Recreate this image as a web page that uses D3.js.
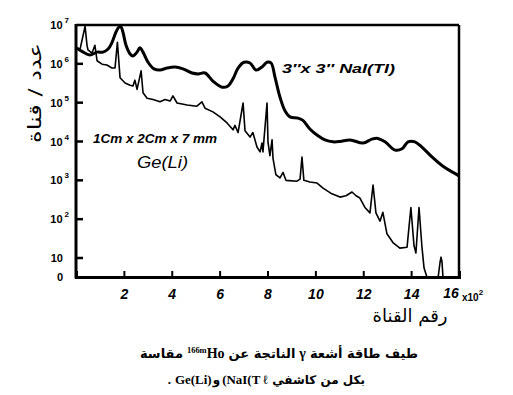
<!DOCTYPE html>
<html><head><meta charset="utf-8">
<script src="https://cdn.jsdelivr.net/npm/d3@7"></script>
<style>
html,body{margin:0;padding:0;background:#fff;}
svg{display:block;}
</style></head>
<body>
<svg id="c" width="513" height="395"></svg>
<script>
// ---- data (channel in units of 100 channels, counts per channel) ----
const naiChannel = [0,0.25,0.58,0.88,1.13,1.34,1.5,1.67,1.8,1.88,1.96,2.09,2.26,2.38,2.55,2.67,2.8,3.01,3.26,3.51,3.8,4.14,4.47,4.85,5.1,5.39,5.72,6.1,6.35,6.56,6.77,7.02,7.27,7.52,7.77,7.98,8.15,8.31,8.52,8.73,8.94,9.27,9.48,9.77,10.11,10.4,10.74,11.03,11.45,11.99,12.36,12.61,12.91,13.33,13.62,13.87,14.16,14.45,14.87,15.33,15.75,16];
const naiCounts = [2.6e6,2.1e6,1.7e6,2.0e6,2.0e6,2.4e6,3.5e6,6.6e6,8.9e6,8.9e6,6.6e6,3.0e6,1.8e6,1.6e6,2.0e6,2.6e6,2.0e6,1.1e6,7.4e5,6.9e5,7.8e5,8.3e5,7.4e5,5.8e5,5.5e5,5.8e5,3.6e5,2.5e5,2.7e5,4.1e5,7.8e5,1.1e6,1.05e6,6.9e5,8.3e5,1.1e6,1.05e6,4.6e5,1.4e5,6.2e4,4.3e4,4.0e4,3.5e4,2.1e4,1.4e4,1.1e4,9.8e3,1.0e4,1.1e4,9.1e3,1.15e4,1.2e4,9.8e3,6.0e3,6.5e3,9.8e3,9.8e3,7.2e3,4.0e3,2.3e3,1.6e3,1.3e3];

const geChannel = [0,0.17,0.38,0.46,0.5,0.67,0.79,0.88,1.09,1.29,1.5,1.63,1.73,1.84,2.05,2.26,2.38,2.46,2.55,2.72,2.8,2.97,3.22,3.51,3.72,3.93,4.05,4.22,4.64,5.05,5.26,5.39,5.72,6.02,6.31,6.56,6.64,6.77,6.98,7.06,7.27,7.39,7.56,7.69,7.77,7.81,7.98,8.02,8.1,8.19,8.23,8.35,8.52,8.65,8.77,9.23,9.36,9.44,9.52,9.77,10.07,10.32,10.69,11.03,11.28,11.53,11.7,11.86,12.07,12.28,12.41,12.53,12.7,12.82,12.99,13.24,13.53,13.83,13.99,14.12,14.2,14.33,14.45,14.54,14.66,15.13,15.21,15.25,15.29,15.33,16];
const geCounts = [2.6e6,2.4e6,9.3e6,3.0e6,2.3e6,1.9e6,3.0e6,1.2e6,9.8e5,9.3e5,7.8e5,7.8e5,3.6e6,4.4e5,3.2e5,2.8e5,2.7e5,3.8e5,2.2e5,6.6e5,1.8e5,1.3e5,1.2e5,1.05e5,1.2e5,1.1e5,1.5e5,9.8e4,8.7e4,8.1e4,1.05e5,7.2e4,5.8e4,4.3e4,3.0e4,2.0e4,2.6e4,1.7e4,9.8e4,1.9e4,1.3e4,1.7e4,7.2e3,5.4e3,9.1e3,5.4e3,9.8e4,9.8e3,4.3e3,1.1e4,3.7e3,1.4e3,1.15e3,1.6e3,1.0e3,9.5e2,1.07e3,4.0e3,1.0e3,9.1e2,8.5e2,6.3e2,4.5e2,3.7e2,4.0e2,5.0e2,4.0e2,3.5e2,2.0e2,1.45e2,7.6e2,1.45e2,89,150,42,25,18,19,200,21,13.5,200,20,4.7,0,0,7.9,10.5,7.9,0,0];

const xTicks = [2,4,6,8,10,12,14];
const yTicks = [0,10,1e2,1e3,1e4,1e5,1e6,1e7];
const yTickLabels = [["0",""],["10",""],["10","2"],["10","3"],["10","4"],["10","5"],["10","6"],["10","7"]];

// ---- scales ----
const svg = d3.select("#c");
const x = d3.scaleLinear().domain([0,16]).range([76,459]);
const yLog = d3.scaleLog().domain([10,1e7]).range([258,25]);
const yLin = d3.scaleLinear().domain([0,10]).range([277,258]);
const y = v => v >= 10 ? yLog(v) : yLin(v);

const nai = naiChannel.map((c,i)=>({c, v:naiCounts[i]}));
const ge = geChannel.map((c,i)=>({c, v:geCounts[i]}));

// ---- curves ----
svg.append("path").datum(ge)
  .attr("d", d3.line().x(d=>x(d.c)).y(d=>y(d.v)).curve(d3.curveLinear))
  .attr("fill","none").attr("stroke","#000").attr("stroke-width",1.6).attr("stroke-linejoin","round");
svg.append("path").datum(nai)
  .attr("d", d3.line().x(d=>x(d.c)).y(d=>y(d.v)).curve(d3.curveCatmullRom.alpha(0.5)))
  .attr("fill","none").attr("stroke","#000").attr("stroke-width",3).attr("stroke-linejoin","round");

// ---- frame ----
const fr = svg.append("g").attr("stroke","#000").attr("fill","none");
fr.append("line").attr("x1",x(0)).attr("x2",x(16)).attr("y1",y(1e7)).attr("y2",y(1e7)).attr("stroke-width",2.5);
fr.append("line").attr("x1",x(16)).attr("x2",x(16)).attr("y1",y(1e7)).attr("y2",y(0)).attr("stroke-width",2.5);

// x axis
const xAxis = d3.axisBottom(x).tickValues(xTicks).tickSize(-6).tickPadding(12).tickFormat(d3.format("d"));
const gx = svg.append("g").attr("transform",`translate(0,${y(0)})`).call(xAxis);
gx.select(".domain").attr("stroke-width",3);
gx.selectAll(".tick line").attr("stroke-width",2);
gx.selectAll(".tick text").attr("font-family","Liberation Sans, sans-serif").attr("font-size",14)
  .attr("font-style","italic").attr("font-weight","bold").attr("fill","#000");

// y axis (manual for broken scale)
svg.append("line").attr("x1",x(0)).attr("x2",x(0)).attr("y1",y(1e7)-1).attr("y2",y(0)+1.5)
  .attr("stroke","#000").attr("stroke-width",3);
svg.selectAll(".ytick").data(yTicks.filter(v=>v>0 && v<1e7)).join("line")
  .attr("x1",x(0)).attr("x2",x(0)+7).attr("y1",d=>y(d)).attr("y2",d=>y(d))
  .attr("stroke","#000").attr("stroke-width",2.5);
const yl = svg.selectAll(".ylab").data(yTicks).join("text")
  .attr("x",(d,i)=> yTickLabels[i][1] ? 69 : 63)
  .attr("y",d=>y(d)+4)
  .attr("text-anchor","end")
  .attr("font-family","Liberation Sans, sans-serif").attr("font-size",11).attr("font-weight","bold");
yl.each(function(d,i){
  const t = d3.select(this);
  t.append("tspan").text(yTickLabels[i][0]);
  if (yTickLabels[i][1]) t.append("tspan").attr("dx",2).attr("dy",-6).attr("font-size",8).text(yTickLabels[i][1]);
});

// 16 x10^2
svg.append("text").attr("x",451).attr("y",298).attr("text-anchor","middle")
  .attr("font-family","Liberation Sans, sans-serif").attr("font-size",14).attr("font-style","italic").attr("font-weight","bold").text("16");
const xe = svg.append("text").attr("x",462).attr("y",301)
  .attr("font-family","Liberation Sans, sans-serif").attr("font-size",10).attr("font-weight","bold");
xe.append("tspan").text("x10");
xe.append("tspan").attr("dy",-6).attr("font-size",8).text("2");

// series labels
svg.append("text").attr("x",282).attr("y",73).attr("textLength",113).attr("lengthAdjust","spacingAndGlyphs")
  .attr("font-family","Liberation Sans, sans-serif").attr("font-size",12).attr("font-style","italic").attr("font-weight","bold")
  .text("3\u2033x 3\u2033 NaI(TI)");
svg.append("text").attr("x",93).attr("y",143).attr("textLength",124).attr("lengthAdjust","spacingAndGlyphs")
  .attr("font-family","Liberation Sans, sans-serif").attr("font-size",12).attr("font-style","italic").attr("font-weight","bold")
  .text("1Cm x 2Cm x 7 mm");
svg.append("text").attr("x",137).attr("y",168).attr("textLength",51).attr("lengthAdjust","spacingAndGlyphs")
  .attr("font-family","Liberation Sans, sans-serif").attr("font-size",16).attr("font-style","italic")
  .text("Ge(Li)");

// axis titles (Arabic)
svg.append("text").attr("transform","translate(41,93) rotate(-90)").attr("text-anchor","middle")
  .attr("textLength",100).attr("lengthAdjust","spacingAndGlyphs")
  .attr("font-family","DejaVu Sans, sans-serif").attr("font-size",18)
  .text("عدد / قناة");
svg.append("text").attr("x",410).attr("y",322).attr("text-anchor","middle")
  .attr("font-family","DejaVu Sans, sans-serif").attr("font-size",18)
  .text("رقم القناة");

// caption: laid out right-to-left piece by piece
function rtlLine(pieces, rightX, baseY, size){
  let cur = rightX;
  pieces.forEach(p=>{
    const t = svg.append("text").attr("x",cur).attr("y",baseY + (p.dy||0)).attr("text-anchor","end")
      .attr("font-family",p.font||"DejaVu Sans, sans-serif").attr("font-weight","bold")
      .attr("font-size",(p.size||1)*size).text(p.t);
    cur -= t.node().getComputedTextLength() + (p.gap===undefined?4:p.gap);
  });
}
rtlLine([
  {t:"طيف طاقة أشعة"},
  {t:"γ", font:"Liberation Serif, serif", size:1.08},
  {t:"الناتجة عن"},
  {t:"Ho", font:"Liberation Serif, serif", size:1.08, gap:0},
  {t:"166m", font:"Liberation Serif, serif", size:0.65, dy:-5},
  {t:"مقاسة"}
], 418, 358, 13);
rtlLine([
  {t:"بكل من كاشفي"},
  {t:"(NaI(T ℓ", font:"Liberation Serif, serif", size:1.08, gap:2},
  {t:"و", gap:1},
  {t:"Ge(Li)", font:"Liberation Serif, serif", size:1.08},
  {t:".", font:"Liberation Serif, serif", size:1.08}
], 365, 384, 12);
</script>
</body></html>
